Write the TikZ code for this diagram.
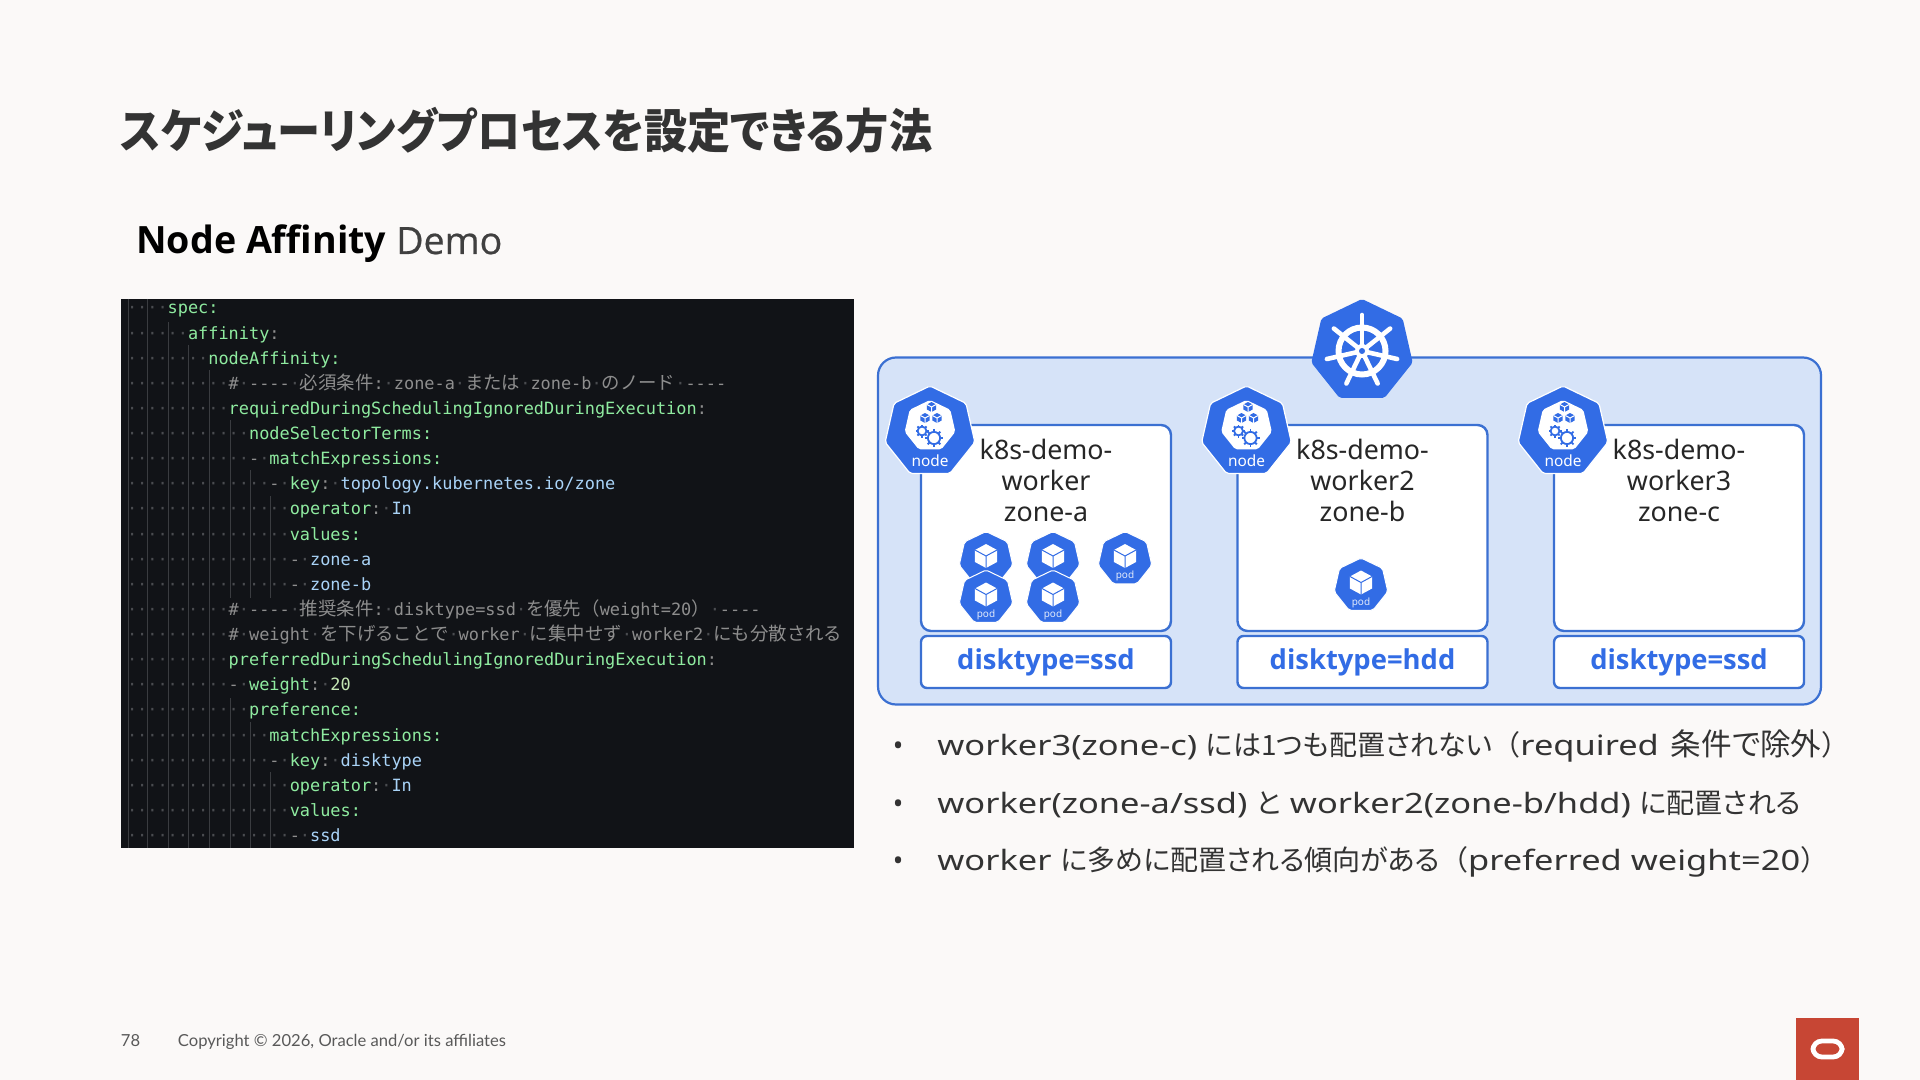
\documentclass[tikz,border=0pt]{standalone}
\usepackage{fontspec}
\usetikzlibrary{positioning,shapes.geometric}
\setmainfont{Noto Sans}
\setmonofont{DejaVu Sans Mono}
\newfontfamily\jpfont[RawFeature=+palt]{Noto Sans CJK JP}
\newfontfamily\jptitle[RawFeature=+palt,FakeStretch=.918]{Noto Sans CJK JP}
\newfontfamily\jpcode{Noto Sans CJK JP}
\newfontfamily\latofont{Lato}
\newfontfamily\opensans{Open Sans}
\newfontfamily\opensemi[FakeBold=0.6]{Open Sans}
\newfontfamily\widesans[FakeStretch=1.23]{Noto Sans}
\definecolor{pagebg}{HTML}{FBF9F8}
\definecolor{codebg}{HTML}{111317}
\definecolor{kblue}{HTML}{326CE5}
\definecolor{kline}{HTML}{3B70D2}
\definecolor{panelbg}{HTML}{D6E3F8}
\definecolor{keygreen}{HTML}{8FEBA0}
\definecolor{valblue}{HTML}{A9D3F7}
\definecolor{cmgray}{HTML}{8E8E8E}
\definecolor{numgreen}{HTML}{C4E6B4}
\definecolor{dotgray}{HTML}{4A4C50}
\definecolor{guidegray}{HTML}{3A3C40}
\definecolor{oraclered}{HTML}{C74634}
\newcommand{\ky}[1]{\textcolor{keygreen}{#1}}
\newcommand{\vl}[1]{\textcolor{valblue}{#1}}
\newcommand{\cmt}[1]{\textcolor{cmgray}{#1}}
\newcommand{\jc}[1]{\textcolor{cmgray}{{\jpcode\fontsize{9.2}{11}\selectfont #1}}}
\newcommand{\sd}{\textcolor{dotgray}{·}}
\newcommand{\ind}[1]{\textcolor{dotgray}{\foreach \i in {1,...,#1}{·}}}
\newcommand{\pc}[1]{\textcolor{cmgray}{#1}}
\tikzset{
  hepta/.style={regular polygon, regular polygon sides=7, inner sep=0pt, outer sep=0pt, rounded corners=1pt},
  panelbox/.style={draw=kline, fill=panelbg, line width=1.1pt, rounded corners=9pt, minimum width=471.5pt, minimum height=173.5pt, inner sep=0pt},
  workerbox/.style={draw=kline, fill=white, line width=1.2pt, rounded corners=5pt, minimum width=125pt, minimum height=103pt, inner sep=0pt, outer sep=0pt},
  diskbox/.style={draw=kline, fill=white, line width=1.2pt, rounded corners=3pt, minimum width=125pt, minimum height=26pt, inner sep=0pt, outer sep=0pt, text=kblue, font=\opensans\fontsize{13.7}{16}\selectfont\bfseries},
  workerlbl/.style={align=center, inner sep=0pt, text=black!85, font=\fontsize{13.4}{15.5}\selectfont},
  nodelbl/.style={text=white, inner sep=0pt, font=\fontsize{7.7}{9}\selectfont},
  podlbl/.style={text=white!85!kblue, inner sep=0pt, font=\fontsize{5}{6}\selectfont},
  codeline/.style={anchor=north west, inner sep=0pt, outer sep=0pt, text height=9pt, text depth=3.56pt, text=white!80!black, font=\ttfamily\fontsize{8.45}{10}\selectfont},
  nextline/.style={below=0pt of #1.south west, anchor=north west},
  bulletdot/.style={anchor=base, inner sep=0pt, text=black!80, font=\fontsize{14}{16}\selectfont},
  bullettxt/.style={anchor=base west, inner sep=0pt, text=black!80, font=\widesans\fontsize{14}{16}\selectfont},
  footlbl/.style={anchor=base west, inner sep=0pt, text=black!65, font=\latofont\fontsize{8.3}{10}\selectfont},
  pics/cubeicon/.style n args={2}{code={
    \fill[#1] (0,-1) -- (.92,-.5) -- (.92,.5) -- (0,1) -- (-.92,.5) -- (-.92,-.5) -- cycle;
    \draw[#2, line width=.5pt] (-.92,-.5) -- (0,0) -- (.92,-.5) (0,0) -- (0,1);
  }},
  pics/gearicon/.style={code={
    \draw[kblue, line width=.9pt] (0,0) circle (.68);
    \foreach \a in {0,45,...,315}
      \draw[kblue, line width=.9pt] (\a:.68) -- (\a:1);
  }},
  pics/nodeicon/.style={code={
    \node[hepta, minimum size=46pt, fill=kblue, draw=white, line width=.6pt] (-body) at (0,0) {};
    \node[hepta, minimum size=26pt, fill=white] (-inner) at (0,-6) {};
    \pic[scale=5] at (1.5,-25) {cubeicon={kblue}{white}};
    \pic[scale=5] at (-5,-14) {cubeicon={kblue}{white}};
    \pic[scale=5] at (7,-14) {cubeicon={kblue}{white}};
    \pic[scale=6.5] at (-8,-1) {gearicon};
    \pic[scale=9] at (4,6) {gearicon};
    \node[nodelbl] (-lbl) at (0,29) {node};
  }},
  pics/podicon/.style={code={
    \node[hepta, minimum size=27.5pt, fill=kblue, draw=white, line width=.5pt] (-body) at (0,0) {};
    \pic[scale=12] at (0,-3) {cubeicon={white}{kblue}};
  }}
}
\begin{document}
\begin{tikzpicture}[x=0.5pt,y=-0.5pt]
\useasboundingbox (0,0) rectangle (1920,1080);
\fill[pagebg] (0,0) rectangle (1920,1080);

\node[anchor=base west, inner sep=0pt, text=black!80, font=\jptitle\fontsize{23.5}{26}\selectfont\bfseries] (title) at (120,149) {スケジューリングプロセスを設定できる方法};
\node[anchor=base west, inner sep=0pt, font=\opensans\fontsize{18.8}{20}\selectfont] (subtitle) at (136,254) {\textbf{Node Affinity} \textcolor{black!75}{\opensemi Demo}};

\fill[codebg] (121,299) rectangle (854,848);
\foreach \gx/\gy/\gz in {128/299/848,147/299/848,168/322/848,188/345/848,209/370/848,230/420/598,250/470/598,270/496/598,230/698/848,250/722/848,270/772/848}
  \draw[guidegray, line width=.4pt] (\gx,\gy) -- (\gx,\gz);

\node[codeline] (c1) at (127,296) {\ind{4}\ky{spec:}};
\node[codeline, nextline=c1] (c2) {\ind{6}\ky{affinity}\pc{:}};
\node[codeline, nextline=c2] (c3) {\ind{8}\ky{nodeAffinity:}};
\node[codeline, nextline=c3] (c4) {\ind{10}\cmt{\#}\sd\cmt{----}\sd\jc{必須条件}\cmt{:}\sd\cmt{zone-a}\sd\jc{または}\sd\cmt{zone-b}\sd\jc{のノード}\sd\cmt{----}};
\node[codeline, nextline=c4] (c5) {\ind{10}\ky{requiredDuringSchedulingIgnoredDuringExecution}\pc{:}};
\node[codeline, nextline=c5] (c6) {\ind{12}\ky{nodeSelectorTerms:}};
\node[codeline, nextline=c6] (c7) {\ind{12}\pc{-}\sd\ky{matchExpressions:}};
\node[codeline, nextline=c7] (c8) {\ind{14}\pc{-}\sd\ky{key}\pc{:}\sd\vl{topology.kubernetes.io/zone}};
\node[codeline, nextline=c8] (c9) {\ind{16}\ky{operator}\pc{:}\sd\vl{In}};
\node[codeline, nextline=c9] (c10) {\ind{16}\ky{values:}};
\node[codeline, nextline=c10] (c11) {\ind{16}\pc{-}\sd\vl{zone-a}};
\node[codeline, nextline=c11] (c12) {\ind{16}\pc{-}\sd\vl{zone-b}};
\node[codeline, nextline=c12] (c13) {\ind{10}\cmt{\#}\sd\cmt{----}\sd\jc{推奨条件}\cmt{:}\sd\cmt{disktype=ssd}\sd\jc{を優先（}\cmt{weight=20}\jc{）}\sd\cmt{----}};
\node[codeline, nextline=c13] (c14) {\ind{10}\cmt{\#}\sd\cmt{weight}\sd\jc{を下げることで}\sd\cmt{worker}\sd\jc{に集中せず}\sd\cmt{worker2}\sd\jc{にも分散される}};
\node[codeline, nextline=c14] (c15) {\ind{10}\ky{preferredDuringSchedulingIgnoredDuringExecution}\pc{:}};
\node[codeline, nextline=c15] (c16) {\ind{10}\pc{-}\sd\ky{weight}\pc{:}\sd\textcolor{numgreen}{20}};
\node[codeline, nextline=c16] (c17) {\ind{12}\ky{preference:}};
\node[codeline, nextline=c17] (c18) {\ind{14}\ky{matchExpressions:}};
\node[codeline, nextline=c18] (c19) {\ind{14}\pc{-}\sd\ky{key}\pc{:}\sd\vl{disktype}};
\node[codeline, nextline=c19] (c20) {\ind{16}\ky{operator}\pc{:}\sd\vl{In}};
\node[codeline, nextline=c20] (c21) {\ind{16}\ky{values:}};
\node[codeline, nextline=c21] (c22) {\ind{16}\pc{-}\sd\vl{ssd}};

\node[panelbox] (panel) at (1349.5,531) {};
\node[hepta, minimum size=52pt, fill=kblue] (helm) at (1362,351) {};
\draw[white, line width=3pt] (helm.center) circle (23.5);
\foreach \i in {0,...,6}
  \draw[white, line width=2.3pt, line cap=round] (helm.center) -- ++(-90+\i*51.43:36);
\fill[white] (helm.center) circle (7);
\fill[kblue] (helm.center) circle (3);

\node[workerbox] (w1) at (1046,528) {};
\node[workerbox, right=33.25pt of w1] (w2) {};
\node[workerbox, right=33.25pt of w2] (w3) {};
\node[diskbox, below=2.5pt of w1] (d1) {disktype=ssd};
\node[diskbox, below=2.5pt of w2] (d2) {disktype=hdd};
\node[diskbox, below=2.5pt of w3] (d3) {disktype=ssd};
\node[workerlbl, below=7pt of w1.north] (t1) {k8s-demo-\\worker\\zone-a};
\node[workerlbl, below=7pt of w2.north] (t2) {k8s-demo-\\worker2\\zone-b};
\node[workerlbl, below=7pt of w3.north] (t3) {k8s-demo-\\worker3\\zone-c};

\pic (ic1) at ([shift={(9,7)}]w1.north west) {nodeicon};
\pic (ic2) at ([shift={(9,7)}]w2.north west) {nodeicon};
\pic (ic3) at ([shift={(9,7)}]w3.north west) {nodeicon};

\pic (p1) at (986,559) {podicon};
\pic (p2) at (1053,559) {podicon};
\pic (p3) at (1125,559) {podicon};
\pic (p4) at (986,597.5) {podicon};
\pic (p5) at (1053,597.5) {podicon};
\pic (p6) at (1361,585.5) {podicon};
\node[podlbl] (pl3) at (1125,576) {pod};
\node[podlbl] (pl4) at (986,615) {pod};
\node[podlbl] (pl5) at (1053,615) {pod};
\node[podlbl] (pl6) at (1361,603) {pod};

\node[bulletdot] (b1) at (898,755) {•};
\node[bulletdot] (b2) at (898,813) {•};
\node[bulletdot] (b3) at (898,870) {•};
\node[bullettxt] (l1) at (937,755) {worker3(zone-c) {\jpfont には1つも配置されない}{\jpcode （}required \hspace{1.5pt}{\jpfont\fontsize{15.3}{16}\selectfont 条件で除外}{\jpcode ）}};
\node[bullettxt] (l2) at (937,813) {worker(zone-a/ssd) {\jpfont と} worker2(zone-b/hdd) {\jpfont に配置される}};
\node[bullettxt] (l3) at (937,870) {worker {\jpfont に多めに配置される傾向がある}{\jpcode （}preferred weight=20{\jpcode ）}};

\node[footlbl] (pageno) at (120.5,1046) {78};
\node[footlbl] (copyr) at (177.5,1046) {Copyright © 2026, Oracle and/or its affiliates};

\fill[oraclered] (1796,1018) rectangle (1859,1080);
\node[draw=white, line width=2.4pt, rounded corners=4.5pt, minimum width=14.6pt, minimum height=8pt, inner sep=0pt] (logo) at (1827.5,1049) {};
\end{tikzpicture}
\end{document}
